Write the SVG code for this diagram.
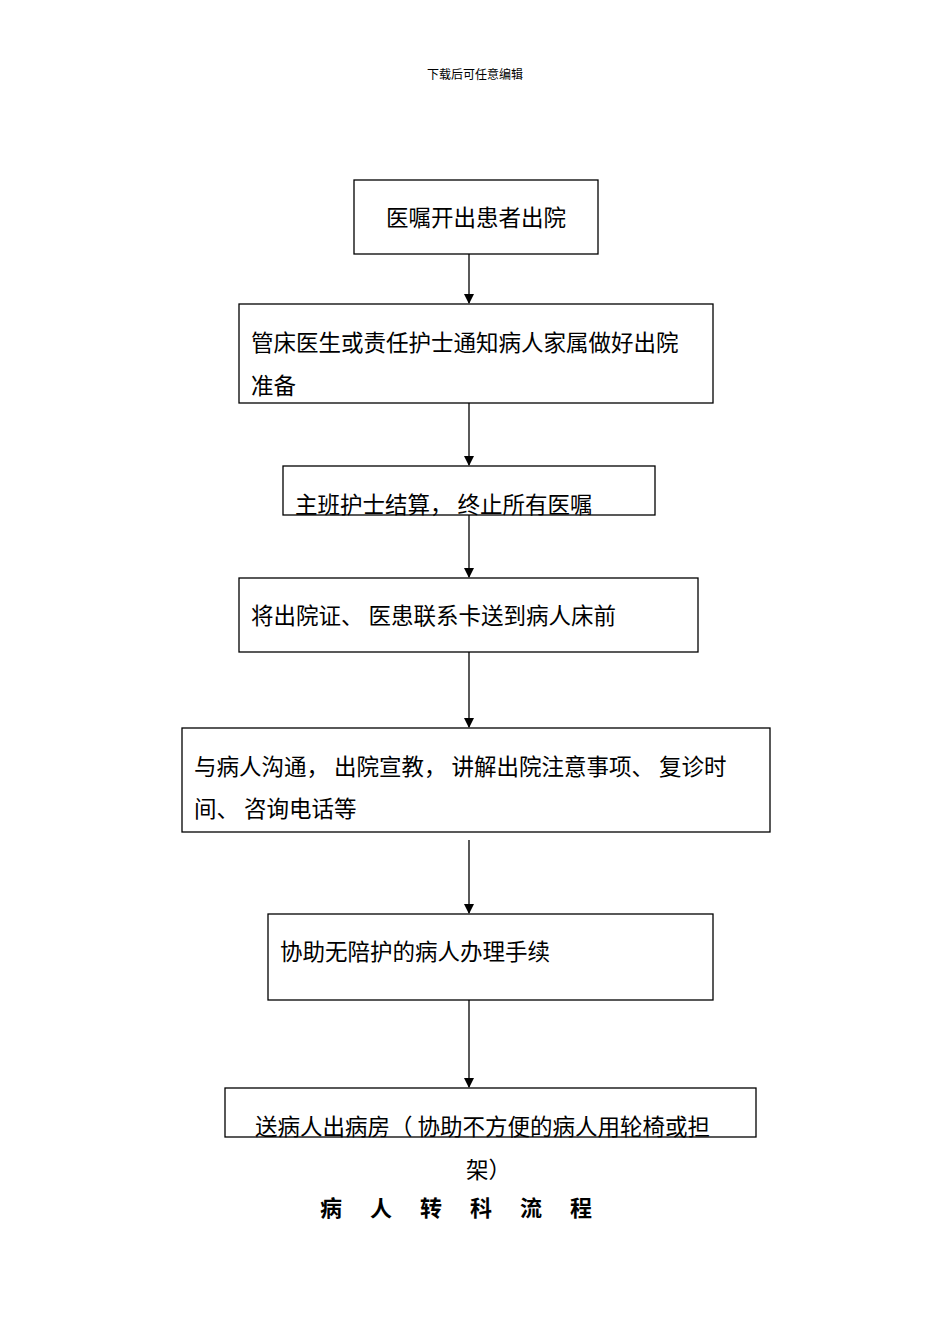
<svg xmlns="http://www.w3.org/2000/svg" width="950" height="1344" viewBox="0 0 950 1344">
<style>
.b{fill:#fff;stroke:#000;stroke-width:1.3}
.t{font-family:"Noto Sans CJK SC","Noto Sans CJK JP",sans-serif;font-size:22.5px;fill:#000}
.c line{stroke:#000;stroke-width:1.3}
</style>
<defs><marker id="a" markerWidth="10" markerHeight="10" refX="9" refY="5" orient="auto" markerUnits="userSpaceOnUse"><path d="M0,0 L10,5 L0,10 z" fill="#000"/></marker></defs>
<rect width="950" height="1344" fill="#fff"/>
<text x="475" y="79" text-anchor="middle" style="font-family:'Noto Sans CJK SC',sans-serif;font-size:12px">下载后可任意编辑</text>
<g class="c">
<line x1="469" y1="254" x2="469" y2="303" marker-end="url(#a)"/>
<line x1="469" y1="403" x2="469" y2="465" marker-end="url(#a)"/>
<line x1="469" y1="515" x2="469" y2="577" marker-end="url(#a)"/>
<line x1="469" y1="652" x2="469" y2="727" marker-end="url(#a)"/>
<line x1="469" y1="840" x2="469" y2="913" marker-end="url(#a)"/>
<line x1="469" y1="1000" x2="469" y2="1087" marker-end="url(#a)"/>
</g>
<g id="n1"><rect class="b" x="354" y="180" width="244" height="74"/><text class="t" x="476" y="226" text-anchor="middle">医嘱开出患者出院</text></g>
<g id="n2"><rect class="b" x="239" y="304" width="474" height="99"/><text class="t" x="251" y="351">管床医生或责任护士通知病人家属做好出院</text><text class="t" x="251" y="394">准备</text></g>
<g id="n3"><rect class="b" x="283" y="466" width="372" height="49"/><text class="t" x="295" y="513">主班护士结算， 终止所有医嘱</text></g>
<g id="n4"><rect class="b" x="239" y="578" width="459" height="74"/><text class="t" x="251" y="624">将出院证、 医患联系卡送到病人床前</text></g>
<g id="n5"><rect class="b" x="182" y="728" width="588" height="104"/><text class="t" x="194" y="775">与病人沟通， 出院宣教， 讲解出院注意事项、 复诊时</text><text class="t" x="194" y="817">间、 咨询电话等</text></g>
<g id="n6"><rect class="b" x="268" y="914" width="445" height="86"/><text class="t" x="280" y="960">协助无陪护的病人办理手续</text></g>
<g id="n7"><rect class="b" x="225" y="1088" width="531" height="49"/><text class="t" x="255" y="1135">送病人出病房（ 协助不方便的病人用轮椅或担</text><text class="t" x="466" y="1178">架）</text></g>
<text x="470" y="1216" text-anchor="middle" style="font-family:'Noto Sans CJK SC',sans-serif;font-size:22px;font-weight:bold;letter-spacing:28px">病人转科流程</text>
</svg>
